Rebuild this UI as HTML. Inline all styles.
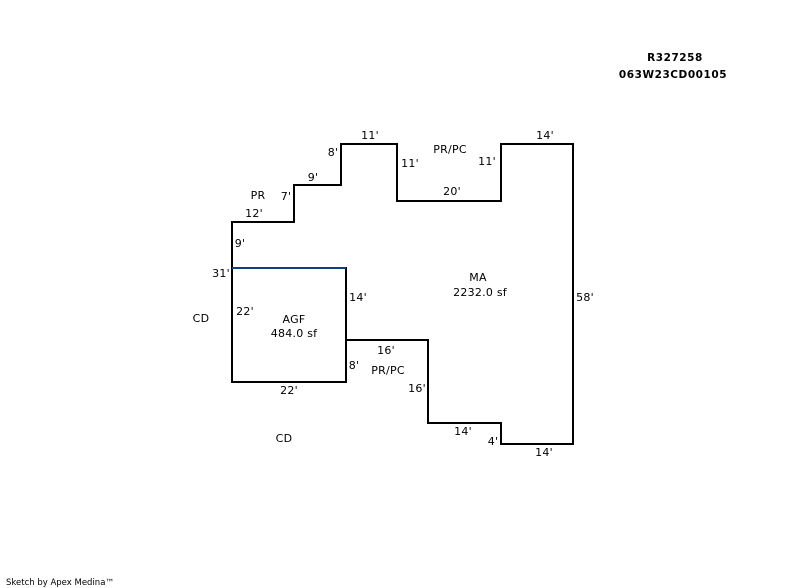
<!DOCTYPE html>
<html>
<head>
<meta charset="utf-8">
<style>
html,body{margin:0;padding:0;background:#fff;}
svg{display:block;}
text{font-family:"DejaVu Sans",sans-serif;font-size:11px;letter-spacing:.25px;fill:#000;text-anchor:middle;}
.t{font-weight:bold;font-size:10.5px;letter-spacing:.55px;}
.s{font-size:8.5px;letter-spacing:0;text-anchor:start;}
</style>
</head>
<body>
<svg width="802" height="588" viewBox="0 0 802 588" xmlns="http://www.w3.org/2000/svg">
<g fill="none" stroke="#000" stroke-width="2" shape-rendering="crispEdges" stroke-linecap="square">
<polyline points="232,268 232,222 294,222 294,185 341,185 341,144 397,144 397,201 501,201 501,144 573,144 573,444 501,444 501,423 428,423 428,340 346,340 346,268"/>
<polyline points="232,268 232,382 346,382 346,340"/>
</g>
<line x1="232" y1="268" x2="346" y2="268" stroke="#0f3f7f" stroke-width="2" shape-rendering="crispEdges"/>
<text class="t" x="675" y="61">R327258</text>
<text class="t" x="673" y="78">063W23CD00105</text>
<text x="258" y="199">PR</text>
<text x="450" y="153">PR/PC</text>
<text x="388" y="374">PR/PC</text>
<text x="201" y="322">CD</text>
<text x="284" y="442">CD</text>
<text x="478" y="281">MA</text>
<text x="480" y="296">2232.0 sf</text>
<text x="294" y="323">AGF</text>
<text x="294" y="337">484.0 sf</text>
<text x="370" y="139">11'</text>
<text x="410" y="167">11'</text>
<text x="487" y="165">11'</text>
<text x="545" y="139">14'</text>
<text x="452" y="195">20'</text>
<text x="333" y="156">8'</text>
<text x="313" y="181">9'</text>
<text x="286" y="200">7'</text>
<text x="254" y="217">12'</text>
<text x="240" y="247">9'</text>
<text x="221" y="277">31'</text>
<text x="245" y="315">22'</text>
<text x="358" y="301">14'</text>
<text x="386" y="354">16'</text>
<text x="354" y="369">8'</text>
<text x="417" y="392">16'</text>
<text x="289" y="394">22'</text>
<text x="463" y="435">14'</text>
<text x="493" y="445">4'</text>
<text x="544" y="456">14'</text>
<text x="585" y="301">58'</text>
<text class="s" x="6" y="585">Sketch by Apex Medina™</text>
</svg>
</body>
</html>
